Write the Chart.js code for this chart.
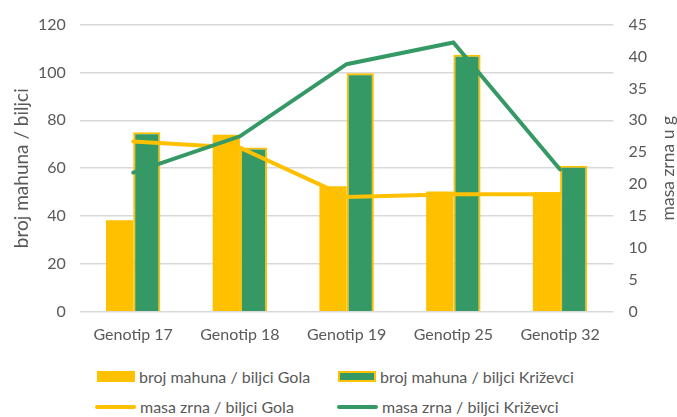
<!DOCTYPE html>
<html>
<head>
<meta charset="utf-8">
<script src="https://cdn.jsdelivr.net/npm/chart.js@4"></script>
<style>
  body { margin: 0; background: #fff; }
  #wrap { position: relative; width: 677px; height: 417px; }
  #chart-box { position: absolute; left: 0; top: 0; width: 677px; height: 357px; }
  #legend { position: absolute; left: 0; top: 362px; width: 677px; font-family: Lato, sans-serif; font-size: 16px; color: #595959; }
  .item { position: absolute; display: flex; align-items: center; white-space: nowrap; }
  .sw { margin-right: 4px; box-sizing: border-box; }
</style>
</head>
<body>
<div id="wrap">
  <div id="chart-box"><canvas id="chart-mz"></canvas></div>
  <div id="legend"></div>
</div>
<script>
// DATA
const genotypes = ['Genotip 17', 'Genotip 18', 'Genotip 19', 'Genotip 25', 'Genotip 32'];
const mahuneGola = [38.3, 74, 52.5, 50.3, 49.9];
const mahuneKrizevci = [75, 68.7, 99.7, 107.4, 61];
const masaGola = [26.7, 25.7, 18, 18.4, 18.4];
const masaKrizevci = [21.8, 27.5, 38.8, 42.2, 22.3];

const yellow = '#FFC000';
const green = '#359966';
const txt = '#595959';

Chart.defaults.font.family = 'Lato, sans-serif';
Chart.defaults.color = txt;

// axis titles, both read bottom to top
const axisTitles = {
    id: 'axisTitles',
    afterDraw(chart) {
        const a = chart.chartArea;
        const ctx = chart.ctx;
        const midY = (a.top + a.bottom) / 2;
        const put = function (text, x, size) {
            ctx.save();
            ctx.translate(x, midY);
            ctx.rotate(-Math.PI / 2);
            ctx.font = size + 'px Lato, sans-serif';
            ctx.fillStyle = txt;
            ctx.textAlign = 'center';
            ctx.textBaseline = 'middle';
            ctx.fillText(text, 0, 0);
            ctx.restore();
        };
        put('broj mahuna / biljci', 22, 19);
        put('masa zrna u g', chart.width - 9, 17.5);
    }
};

// COMBO CHART
const mzCot = document.getElementById('chart-mz');

let mzChart = new Chart(mzCot, {
    type: 'bar',
    data: {
        labels: genotypes,
        datasets: [{
            type: 'line',
            label: 'masa zrna / biljci Gola',
            data: masaGola,
            yAxisID: 'y1',
            borderColor: yellow,
            borderWidth: 4,
            pointRadius: 0,
            borderCapStyle: 'round',
            order: 1
        }, {
            type: 'line',
            label: 'masa zrna / biljci Križevci',
            data: masaKrizevci,
            yAxisID: 'y1',
            borderColor: green,
            borderWidth: 4,
            pointRadius: 0,
            borderCapStyle: 'round',
            order: 0
        }, {
            label: 'broj mahuna / biljci Gola',
            data: mahuneGola,
            backgroundColor: yellow,
            borderWidth: 0,
            order: 2
        }, {
            label: 'broj mahuna / biljci Križevci',
            data: mahuneKrizevci,
            backgroundColor: green,
            borderColor: yellow,
            borderWidth: 2,
            order: 2
        }]
    },
    options: {
        responsive: true,
        maintainAspectRatio: false,
        animation: false,
        categoryPercentage: 0.51,
        barPercentage: 1,
        layout: {
            padding: { left: 24, right: 15, top: 14, bottom: 0 }
        },
        scales: {
            x: {
                grid: { display: false, drawTicks: false },
                border: { display: false },
                ticks: { font: { size: 16 }, color: txt, padding: 13 }
            },
            y: {
                min: 0,
                max: 120,
                ticks: { stepSize: 20, font: { size: 16 }, color: txt, padding: 14 },
                grid: { color: '#d9d9d9', lineWidth: 1.5, drawTicks: false },
                border: { display: false }
            },
            y1: {
                position: 'right',
                min: 0,
                max: 45,
                ticks: { stepSize: 5, font: { size: 16 }, color: txt, padding: 15 },
                grid: { display: false, drawTicks: false },
                border: { display: false }
            }
        },
        plugins: {
            legend: { display: false },
            tooltip: { enabled: false }
        }
    },
    plugins: [axisTitles]
});

// LEGEND
const legendItems = [
    { text: 'broj mahuna / biljci Gola', kind: 'bar', fill: yellow, edge: null, x: 97, y: 15 },
    { text: 'broj mahuna / biljci Križevci', kind: 'bar', fill: green, edge: yellow, x: 338, y: 15 },
    { text: 'masa zrna / biljci Gola', kind: 'line', fill: yellow, x: 95, y: 45 },
    { text: 'masa zrna / biljci Križevci', kind: 'line', fill: green, x: 337, y: 45 }
];
const legend = document.getElementById('legend');
legendItems.forEach(function (it) {
    const el = document.createElement('div');
    el.className = 'item';
    el.style.left = it.x + 'px';
    el.style.top = (it.y - 10) + 'px';
    const sw = document.createElement('span');
    sw.className = 'sw';
    if (it.kind === 'bar') {
        sw.style.width = '38px';
        sw.style.height = '11px';
        sw.style.background = it.fill;
        if (it.edge) sw.style.border = '2px solid ' + it.edge;
    } else {
        sw.style.width = '41px';
        sw.style.height = '4px';
        sw.style.borderRadius = '2px';
        sw.style.background = it.fill;
    }
    el.appendChild(sw);
    el.appendChild(document.createTextNode(it.text));
    legend.appendChild(el);
});
</script>
</body>
</html>
